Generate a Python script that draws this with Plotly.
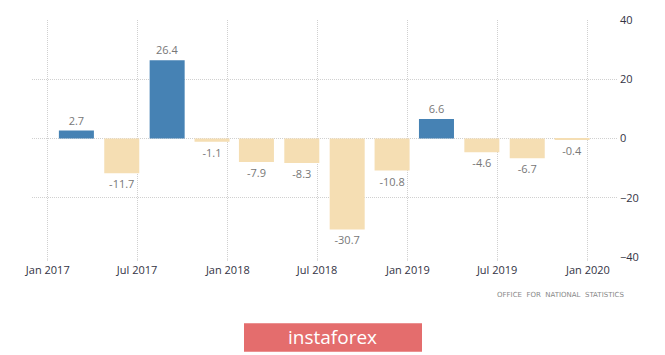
import plotly.graph_objects as go

dates = ["2017-02-28", "2017-05-31", "2017-08-31", "2017-11-30",
         "2018-02-28", "2018-05-31", "2018-08-31", "2018-11-30",
         "2019-02-28", "2019-05-31", "2019-08-31", "2019-11-30"]
values = [2.7, -11.7, 26.4, -1.1, -7.9, -8.3, -30.7, -10.8, 6.6, -4.6, -6.7, -0.4]
labels = [f"{v:.1f}" for v in values]
colors = ["#4682B4" if v >= 0 else "#F5DEB3" for v in values]

fig = go.Figure()
fig.add_trace(go.Bar(
    x=dates, y=values, text=labels, textposition="outside",
    textfont=dict(family="Open Sans", size=11, color="#777777"),
    marker=dict(color=colors, line=dict(width=0)),
    width=71 * 86400000, cliponaxis=False, hoverinfo="skip",
))

fig.update_layout(
    width=665, height=355,
    margin=dict(l=32, r=48, t=17, b=98),
    paper_bgcolor="white", plot_bgcolor="white",
    showlegend=False,
    xaxis=dict(
        type="date", range=["2016-11-30", "2020-02-29"],
        tick0="2017-01-01", dtick="M6", tickformat="%b %Y",
        showgrid=True, gridcolor="#D0D0D0", griddash="1px,1px", gridwidth=1,
        ticks="outside", ticklen=3, tickcolor="#DDDDDD",
        tickfont=dict(family="Open Sans", size=11, color="#333344"),
        zeroline=False, showline=False,
    ),
    yaxis=dict(
        side="right", range=[-40, 40], dtick=20,
        showgrid=True, gridcolor="#D0D0D0", griddash="1px,1px", gridwidth=1,
        zeroline=False, showline=False, ticks="", ticklabelstandoff=2,
        tickfont=dict(family="Open Sans", size=11, color="#333344"),
    ),
)

fig.add_annotation(
    text="OFFICE  FOR  NATIONAL  STATISTICS", xref="paper", yref="paper",
    x=(626 - 32) / 585, y=-(295 - 257) / 240, xanchor="right", yanchor="middle",
    showarrow=False, font=dict(family="DejaVu Sans", size=7, color="#888888"),
)

fig.add_shape(
    type="rect", xref="paper", yref="paper",
    x0=(244 - 32) / 585, x1=(422 - 32) / 585,
    y0=-(353 - 257) / 240, y1=-(324 - 257) / 240,
    fillcolor="#E46D6D", line=dict(width=0), layer="above",
)
fig.add_annotation(
    text="instaforex", xref="paper", yref="paper",
    x=(333 - 32) / 585, y=-(338 - 257) / 240, xanchor="center", yanchor="middle",
    showarrow=False, font=dict(family="Open Sans", size=19, color="white"),
)

fig.write_html("out.html", config={"displayModeBar": False},
               post_script="document.body.style.margin='0';document.body.style.overflow='hidden';")
